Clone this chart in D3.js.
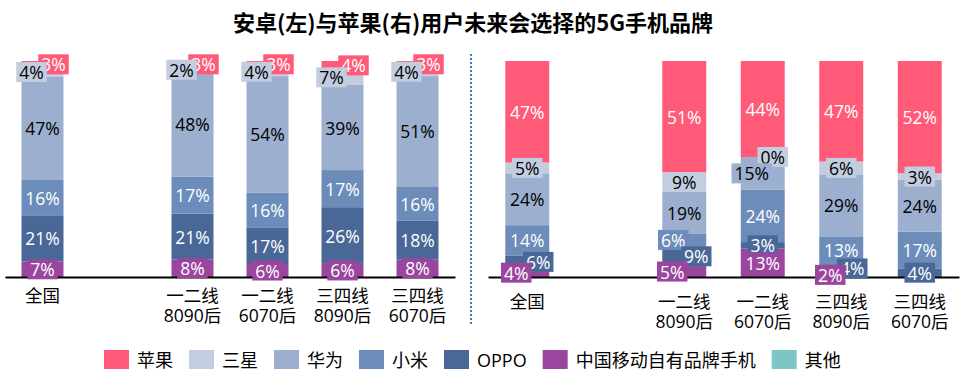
<!DOCTYPE html>
<html>
<head>
<meta charset="utf-8">
<script src="https://cdn.jsdelivr.net/npm/d3@7"></script>
<style>
  body { margin: 0; background: #fff; }
  text { font-family: "Open Sans", "Noto Sans CJK SC", sans-serif; }
  .title { font-family: "Noto Sans CJK SC", sans-serif; }
</style>
</head>
<body>
<svg id="chart" width="964" height="377"></svg>
<script>
// categories (blank slot between 全国 and the rest)
var categories = ["全国", "", "一二线\n8090后", "一二线\n6070后", "三四线\n8090后", "三四线\n6070后"];
// stack order, bottom to top
var seriesNames = ["中国移动自有品牌手机", "OPPO", "小米", "华为", "三星", "苹果", "其他"];
var legendOrder = ["苹果", "三星", "华为", "小米", "OPPO", "中国移动自有品牌手机", "其他"];

// 安卓 users (left)
var androidMobile  = [7, null, 8, 6, 6, 8];
var androidOppo    = [21, null, 21, 17, 26, 18];
var androidXiaomi  = [16, null, 17, 16, 17, 16];
var androidHuawei  = [47, null, 48, 54, 39, 51];
var androidSamsung = [4, null, 2, 4, 7, 4];
var androidApple   = [3, null, 3, 3, 4, 3];
var androidOther   = [null, null, null, null, null, null];

// 苹果 users (right)
var iosMobile  = [4, null, 5, 13, 2, null];
var iosOppo    = [6, null, 9, 3, 4, 4];
var iosXiaomi  = [14, null, 6, 24, 13, 17];
var iosHuawei  = [24, null, 19, 15, 29, 24];
var iosSamsung = [5, null, 9, 0, 6, 3];
var iosApple   = [47, null, 51, 44, 47, 52];
var iosOther   = [null, null, null, null, null, null];

var colors = {
  "苹果": "#FF5B79", "三星": "#C3CDE0", "华为": "#9DAFCE", "小米": "#6C8CBA",
  "OPPO": "#4A6897", "中国移动自有品牌手机": "#9A469E", "其他": "#7CC6C3"
};
var darkText = { "华为": true, "三星": true };

// manual label nudges (panel|series|category index -> dx)
var nudge = {
  "L|三星": -11, "L|苹果": 11,
  "R|OPPO|0": 11, "R|中国移动自有品牌手机|0": -11,
  "R|小米|2": -11, "R|OPPO|2": 12, "R|中国移动自有品牌手机|2": -12,
  "R|三星|3": 10, "R|华为|3": -11,
  "R|中国移动自有品牌手机|4": -11, "R|OPPO|4": 11
};

var svg = d3.select("#chart");
var baseY = 277;
// 100% stacked columns
var y = d3.scaleLinear().domain([0, 1]).range([baseY, 61]);

svg.append("text").attr("class", "title")
  .attr("x", 473).attr("y", 21)
  .attr("text-anchor", "middle").attr("dominant-baseline", "central")
  .style("font-size", "22px").style("font-weight", "bold")
  .text("安卓(左)与苹果(右)用户未来会选择的5G手机品牌");

function drawPanel(key, range, cols, labelY) {
  var x = d3.scaleBand().domain(d3.range(categories.length))
    .range(range).paddingInner(0.44).paddingOuter(0.22);

  var rows = categories.map(function (c, i) {
    var r = { idx: i };
    seriesNames.forEach(function (s, k) { r[s] = cols[k][i] || 0; });
    return r;
  }).filter(function (r) { return categories[r.idx] !== ""; });

  var stacked = d3.stack().keys(seriesNames).offset(d3.stackOffsetExpand)(rows);
  var g = svg.append("g");

  g.selectAll("g.series").data(stacked).enter().append("g")
    .attr("fill", function (d) { return colors[d.key]; })
    .selectAll("rect").data(function (d) { return d; }).enter().append("rect")
    .attr("x", function (d) { return x(d.data.idx); })
    .attr("width", x.bandwidth())
    .attr("y", function (d) { return y(d[1]); })
    .attr("height", function (d) { return y(d[0]) - y(d[1]); });

  var axis = g.append("g")
    .attr("transform", "translate(0," + baseY + ")")
    .call(d3.axisBottom(x).tickSize(0).tickSizeOuter(0).tickFormat(""));
  axis.select(".domain").attr("stroke", "#000").attr("stroke-width", 2);
  axis.selectAll(".tick text").each(function (i) {
    var t = d3.select(this).attr("y", 0).attr("dy", null)
      .style("font-size", "17.5px").attr("fill", "#000");
    categories[i].split("\n").forEach(function (line, j) {
      t.append("tspan").attr("x", 0).attr("y", labelY - baseY + j * 20)
        .attr("dominant-baseline", "central").text(line);
    });
  });

  // labels, top series first so lower ones sit above
  var lg = g.append("g");
  stacked.slice().reverse().forEach(function (layer) {
    var k = seriesNames.indexOf(layer.key);
    layer.forEach(function (d) {
      var v = cols[k][d.data.idx];
      if (v === null || v === undefined) return;
      var dx = nudge[key + "|" + layer.key + "|" + d.data.idx];
      if (dx === undefined) dx = nudge[key + "|" + layer.key] || 0;
      var cx = x(d.data.idx) + x.bandwidth() / 2 + dx;
      var cy = (y(d[0]) + y(d[1])) / 2;
      var lab = lg.append("g");
      var txt = lab.append("text")
        .attr("x", cx).attr("y", cy)
        .attr("text-anchor", "middle").attr("dominant-baseline", "central")
        .style("font-size", "17.5px")
        .attr("fill", darkText[layer.key] ? "#000" : "#fff")
        .text(v + "%");
      var w = txt.node().getComputedTextLength() + 6;
      lab.insert("rect", "text")
        .attr("x", cx - w / 2).attr("y", cy - 10)
        .attr("width", w).attr("height", 20)
        .attr("fill", colors[layer.key]);
    });
  });
}

drawPanel("L", [5, 455], [androidMobile, androidOppo, androidXiaomi, androidHuawei, androidSamsung, androidApple, androidOther], 295);
drawPanel("R", [488, 959], [iosMobile, iosOppo, iosXiaomi, iosHuawei, iosSamsung, iosApple, iosOther], 301);

// divider
svg.append("line")
  .attr("x1", 471).attr("x2", 471).attr("y1", 54).attr("y2", 324)
  .attr("stroke", "#4472C4").attr("stroke-width", 2)
  .attr("stroke-dasharray", "2,2");

// legend
var lx = 104;
var legend = svg.append("g");
legendOrder.forEach(function (name) {
  legend.append("rect").attr("x", lx).attr("y", 350)
    .attr("width", 25).attr("height", 19).attr("fill", colors[name]);
  var t = legend.append("text").attr("x", lx + 33).attr("y", 359.5)
    .attr("dominant-baseline", "central").style("font-size", "18px")
    .attr("fill", "#000").text(name);
  lx += 33 + t.node().getComputedTextLength() + 16;
});
</script>
</body>
</html>
